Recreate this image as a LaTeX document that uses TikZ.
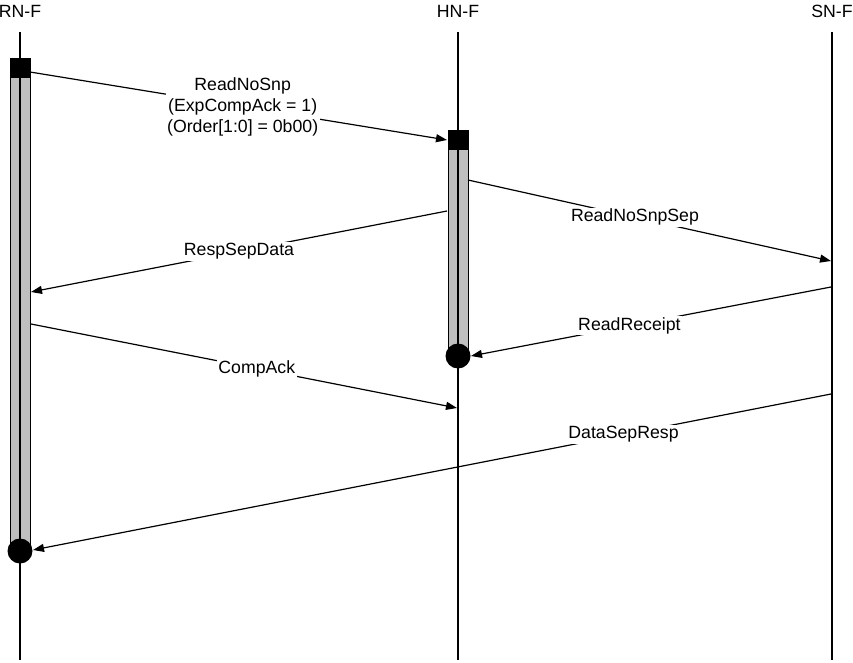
\documentclass[tikz,border=0pt]{standalone}
\usepackage{fontspec}
\setmainfont{Liberation Sans}
\usetikzlibrary{positioning,arrows.meta}
\tikzset{
  life/.style={line width=2.6pt},
  actbar/.style={draw=black,fill=black!25,line width=0.9pt},
  msg/.style={line width=1.2pt,-{Triangle[length=11pt,width=8pt]}},
  lbl/.style={fill=white,inner sep=1.5pt,align=center,font=\fontsize{17.7}{21}\selectfont},
  head/.style={inner sep=0pt,font=\fontsize{17.7}{21}\selectfont},
}

\begin{document}
\begin{tikzpicture}[x=1pt,y=-1pt]
	\useasboundingbox (0,0) rectangle (853,663);
	% heads and lifelines
	\foreach \x/\n/\t in {20/rn/RN-F, 458/hn/HN-F, 832/sn/SN-F}
	{
		\node[head] (\n) at (\x,11) {\t};
		\coordinate (\n top) at (\x,32);
		\coordinate (\n bot) at (\x,660);
	}
	\filldraw[actbar] (10,58) rectangle (30,551);
	\filldraw[actbar] (448,130) rectangle (468,356);
	\foreach \n in {rn,hn,sn}
	{\draw[life] (\n top) -- (\n bot);}
	\fill (10,58) rectangle (30,78);
	\fill (448,130) rectangle (468,150);
	\fill (20,551) circle (12.5);
	\fill (458,356) circle (12.5);
	% message ends
	\coordinate (m1a) at (30,72);   \coordinate (m1b) at (447,140);
	\coordinate (m2a) at (468,180); \coordinate (m2b) at (831,261);
	\coordinate (m3a) at (447,211); \coordinate (m3b) at (31,292);
	\coordinate (m4a) at (831,287); \coordinate (m4b) at (471,356);
	\coordinate (m5a) at (31,324);  \coordinate (m5b) at (457,408);
	\coordinate (m6a) at (831,394); \coordinate (m6b) at (33,550);
	% messages
	\draw[msg] (m1a) -- node[lbl,pos=0.51] (l1) {ReadNoSnp\\(ExpCompAck = 1)\\(Order[1:0] = 0b00)} (m1b);
	\draw[msg] (m2a) -- node[lbl,pos=0.46] (l2) {ReadNoSnpSep} (m2b);
	\draw[msg] (m3a) -- node[lbl,pos=0.5] (l3) {RespSepData} (m3b);
	\draw[msg] (m4a) -- node[lbl,pos=0.56] (l4) {ReadReceipt} (m4b);
	\draw[msg] (m5a) -- node[lbl,pos=0.53] (l5) {CompAck} (m5b);
	\draw[msg] (m6a) -- node[lbl,pos=0.26] (l6) {DataSepResp} (m6b);
\end{tikzpicture}
\end{document}
